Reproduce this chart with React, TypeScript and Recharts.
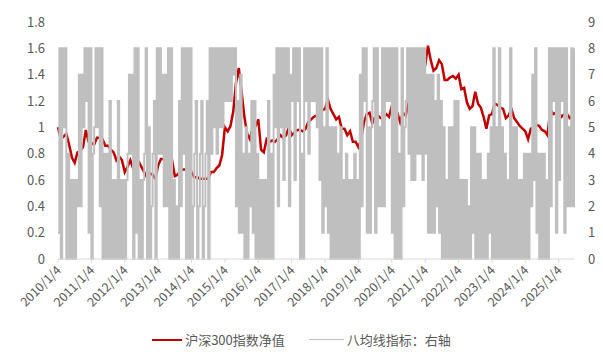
import { LineChart, Line, XAxis, YAxis, Legend } from 'recharts'

// 月度数据：2010/1 – 2025/6
const startYear = 2010

// 沪深300指数净值（左轴），每月一个点
const netValue = [
  1.00, 0.91, 0.93, 0.95, 0.87, 0.77, 0.73, 0.81, 0.82, 0.85, 0.98, 0.89, // 2010
  0.88, 0.87, 0.92, 0.92, 0.91, 0.86, 0.86, 0.83, 0.81, 0.75, 0.78, 0.75, // 2011
  0.66, 0.70, 0.75, 0.69, 0.74, 0.74, 0.70, 0.66, 0.62, 0.65, 0.64, 0.61, // 2012
  0.71, 0.76, 0.76, 0.71, 0.70, 0.75, 0.63, 0.64, 0.67, 0.68, 0.68, 0.70, // 2013
  0.66, 0.62, 0.62, 0.61, 0.61, 0.61, 0.61, 0.66, 0.66, 0.69, 0.71, 0.79, // 2014
  1.00, 0.97, 1.01, 1.12, 1.34, 1.45, 1.27, 1.08, 0.95, 0.91, 1.00, 1.01, // 2015
  1.06, 0.83, 0.81, 0.91, 0.89, 0.90, 0.89, 0.91, 0.94, 0.92, 0.94, 1.00, // 2016
  0.94, 0.96, 0.98, 0.98, 0.97, 0.99, 1.04, 1.06, 1.08, 1.09, 1.13, 1.13, // 2017
  1.14, 1.21, 1.14, 1.10, 1.06, 1.08, 0.99, 0.99, 0.94, 0.97, 0.89, 0.89, // 2018
  0.85, 0.91, 1.04, 1.10, 1.11, 1.03, 1.08, 1.09, 1.07, 1.08, 1.10, 1.08, // 2019
  1.16, 1.13, 1.11, 1.04, 1.11, 1.09, 1.18, 1.33, 1.36, 1.30, 1.33, 1.41, // 2020
  1.47, 1.62, 1.51, 1.43, 1.45, 1.51, 1.48, 1.36, 1.36, 1.38, 1.39, 1.37, // 2021
  1.40, 1.29, 1.30, 1.19, 1.14, 1.16, 1.27, 1.18, 1.15, 1.08, 0.99, 1.09, // 2022
  1.10, 1.18, 1.17, 1.15, 1.14, 1.07, 1.09, 1.14, 1.07, 1.04, 1.01, 0.99, // 2023
  0.97, 0.91, 0.99, 1.00, 1.02, 1.01, 0.98, 0.97, 0.94, 1.14, 1.10, 1.11, // 2024
  1.11, 1.08, 1.10, 1.10, 1.07, 1.09, // 2025
]

// 八均线指标（右轴）：每月的低点 / 高点
const grayLow = [
  1, 0, 5, 0, 0, 0, 0, 2, 2, 5, 6, 1, // 2010
  0, 5, 5, 2, 0, 0, 0, 0, 0, 0, 0, 0, // 2011
  0, 4, 4, 0, 1, 0, 0, 4, 0, 0, 4, 0, // 2012
  4, 4, 2, 2, 0, 0, 0, 0, 2, 4, 0, 0, // 2013
  0, 4, 0, 4, 0, 4, 0, 4, 5, 4, 5, 5, // 2014
  6, 6, 6, 7, 2, 1, 1, 0, 0, 2, 1, 0, // 2015
  0, 0, 0, 0, 0, 0, 5, 2, 5, 3, 5, 2, // 2016
  6, 3, 6, 0, 0, 6, 4, 6, 6, 5, 3, 1, // 2017
  2, 1, 0, 0, 0, 0, 0, 0, 0, 0, 0, 0, // 2018
  0, 2, 6, 1, 1, 6, 1, 2, 2, 2, 6, 6, // 2019
  1, 0, 0, 0, 2, 6, 4, 3, 3, 4, 4, 3, // 2020
  4, 1, 1, 1, 2, 1, 0, 0, 0, 0, 0, 0, // 2021
  0, 0, 0, 0, 0, 1, 0, 0, 0, 0, 0, 1, // 2022
  0, 0, 0, 0, 0, 0, 0, 0, 0, 0, 0, 0, // 2023
  0, 0, 2, 3, 1, 0, 0, 0, 0, 2, 6, 1, // 2024
  3, 6, 1, 2, 2, 2, // 2025
]
const grayHigh = [
  8, 8, 8, 4, 3, 3, 3, 7, 7, 8, 8, 8, // 2010
  4, 8, 8, 8, 4, 4, 6, 3, 3, 6, 3, 3, // 2011
  3, 7, 7, 8, 8, 3, 3, 8, 5, 2, 6, 8, // 2012
  8, 7, 7, 8, 8, 3, 2, 6, 8, 8, 8, 8, // 2013
  2, 6, 2, 6, 2, 6, 8, 8, 8, 8, 8, 8, // 2014
  8, 8, 8, 8, 6, 7, 4, 5, 4, 6, 6, 4, // 2015
  3, 3, 3, 6, 4, 7, 8, 8, 8, 8, 8, 7, // 2016
  8, 8, 8, 4, 8, 8, 8, 8, 8, 8, 8, 5, // 2017
  8, 5, 5, 5, 4, 5, 3, 4, 3, 3, 4, 3, // 2018
  7, 8, 8, 5, 5, 8, 8, 5, 8, 8, 8, 8, // 2019
  8, 8, 4, 8, 5, 8, 8, 8, 8, 8, 8, 8, // 2020
  7, 7, 7, 6, 7, 6, 5, 3, 5, 5, 6, 6, // 2021
  3, 3, 3, 2, 5, 5, 4, 4, 3, 3, 4, 5, // 2022
  8, 5, 8, 5, 4, 3, 8, 5, 5, 3, 3, 4, // 2023
  4, 4, 7, 8, 4, 4, 4, 3, 8, 8, 8, 8, // 2024
  8, 8, 8, 5, 8, 8, // 2025
]

const leftTicks = [0, 0.2, 0.4, 0.6, 0.8, 1, 1.2, 1.4, 1.6, 1.8]
const rightTicks = [0, 1, 2, 3, 4, 5, 6, 7, 8, 9]

const RED = '#C00000'
const GRAY = '#BFBFBF'
const TEXT = '#595959'
const FONT = '"Noto Sans CJK SC", "Noto Sans", sans-serif'

// 每月两个点（先低后高），净值只放在每月第一个点上
const data = netValue.flatMap((v, i) => {
  const year = startYear + Math.floor(i / 12)
  const label = i % 12 === 0 ? `${year}/1/4` : `${year}-${(i % 12) + 1}`
  return [
    { date: label, net: v, eight: grayLow[i] },
    { date: `${label}b`, net: null, eight: grayHigh[i] },
  ]
})

function fmtLeft(v: number): string {
  return Number.isInteger(v) ? String(v) : v.toFixed(1)
}

function DateTick({ x, y, payload }: { x?: number; y?: number; payload?: { value: string } }) {
  if (x == null || y == null || !payload) return null
  const tx = x + 4
  const ty = y + 6
  return (
    <text x={tx} y={ty} transform={`rotate(-45 ${tx} ${ty})`} textAnchor="end" fontSize={12.5} fill={TEXT} fontFamily={FONT}>
      {payload.value}
    </text>
  )
}

function LegendBox() {
  return (
    <div style={{ display: 'flex', justifyContent: 'center', alignItems: 'center', fontSize: 13, color: TEXT, fontFamily: FONT }}>
      <span style={{ display: 'inline-block', width: 30, height: 2, background: RED, marginRight: 3 }} />
      <span>沪深300指数净值</span>
      <span style={{ display: 'inline-block', width: 35, height: 1.5, background: GRAY, marginLeft: 24, marginRight: 3 }} />
      <span>八均线指标：右轴</span>
    </div>
  )
}

export default function App() {
  return (
    <div style={{ position: 'absolute', left: 0, top: 0, width: 603, height: 354, background: '#fff' }}>
      <LineChart width={603} height={354} data={data} margin={{ top: 22, right: 0, bottom: 6, left: 0 }}>
        <XAxis
          dataKey="date"
          interval={23}
          tick={<DateTick />}
          tickSize={4}
          stroke="#D9D9D9"
          height={70}
        />
        <YAxis
          yAxisId="left"
          domain={[0, 1.8]}
          ticks={leftTicks}
          interval={0}
          tickFormatter={fmtLeft}
          axisLine={false}
          tickLine={false}
          width={58}
          tickMargin={7}
          tick={{ fontSize: 13, fill: TEXT, fontFamily: FONT }}
        />
        <YAxis
          yAxisId="right"
          orientation="right"
          domain={[0, 9]}
          ticks={rightTicks}
          interval={0}
          axisLine={false}
          tickLine={false}
          width={29}
          tickMargin={8}
          tick={{ fontSize: 13, fill: TEXT, fontFamily: FONT }}
        />
        <Legend content={<LegendBox />} wrapperStyle={{ top: 330, left: 0, width: 603 }} />
        <Line yAxisId="left" dataKey="net" name="沪深300指数净值" stroke={RED} strokeWidth={2.5} dot={false} connectNulls isAnimationActive={false} />
        <Line yAxisId="right" type="stepAfter" dataKey="eight" name="八均线指标：右轴" stroke={GRAY} strokeWidth={2} dot={false} isAnimationActive={false} />
      </LineChart>
    </div>
  )
}
